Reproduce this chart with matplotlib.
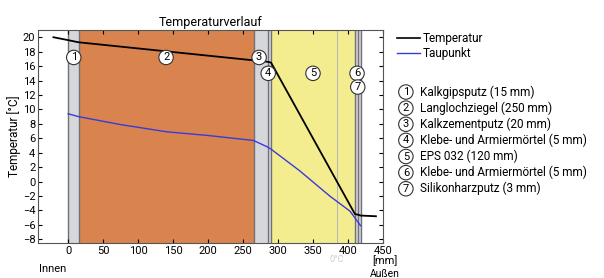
import numpy as np
import matplotlib.pyplot as plt

plt.rcParams['font.family'] = ['Roboto', 'DejaVu Sans']

layer_names = ['Kalkgipsputz (15 mm)', 'Langlochziegel (250 mm)', 'Kalkzementputz (20 mm)',
               'Klebe- und Armiermörtel (5 mm)', 'EPS 032 (120 mm)',
               'Klebe- und Armiermörtel (5 mm)', 'Silikonharzputz (3 mm)']
layer_thick = [15, 250, 20, 5, 120, 5, 3]
layer_colors = ['#d6d7db', '#d9834f', '#d6d7db', '#d6d7db', '#f4ed8f', '#d6d7db', '#d6d7db']

temp_x = [-21, 0, 15, 265, 285, 290, 410, 415, 418, 440]
temp_y = [20.0, 19.6, 19.3, 16.8, 16.6, 16.5, -4.5, -4.6, -4.7, -4.8]

dew_x = [0, 15, 75, 141, 199, 265, 285, 290, 331, 374, 403, 418]
dew_y = [9.4, 9.0, 7.9, 6.9, 6.4, 5.7, 4.8, 4.5, 1.5, -2.0, -4.1, -6.1]

zero_x = 384

# label positions (mm, degC) for the circled numbers
num_x = [8, 140, 273, 286, 350, 413, 414]
num_y = [17.2, 17.2, 17.2, 15.0, 15.0, 15.0, 13.1]

fig = plt.figure(figsize=(6.04, 2.78), dpi=100)
ax = fig.add_axes([0.063, 0.126, 0.571, 0.766])

edges = np.concatenate([[0], np.cumsum(layer_thick)])
for i in range(len(layer_thick)):
    ax.axvspan(edges[i], edges[i + 1], color=layer_colors[i], lw=0, zorder=0)
for e in edges:
    ax.axvline(e, color='#707078', lw=1.0, zorder=1)
ax.axvline(zero_x, color='#b8b8b8', lw=0.8, zorder=1)

ax.plot(temp_x, temp_y, color='black', lw=1.3, zorder=3, label='Temperatur')
ax.plot(dew_x, dew_y, color='#3a3ad8', lw=1.0, zorder=3, label='Taupunkt')

circ = dict(boxstyle='circle,pad=0.2', fc='white', ec='#333333', lw=0.8)
for i in range(len(num_x)):
    ax.text(num_x[i], num_y[i], str(i + 1), ha='center', va='center', fontsize=8,
            bbox=circ, zorder=4)

ax.set_xlim(-43, 450)
ax.set_ylim(-8.5, 21)
ax.set_xticks(np.arange(0, 451, 50))
ax.set_yticks(np.arange(-8, 21, 2))
ax.tick_params(direction='in', top=True, right=True, labelsize=8, length=3, pad=2)
for s in ax.spines.values():
    s.set_color('#555555')
ax.set_title('Temperaturverlauf', fontsize=9, pad=3)
ax.set_ylabel('Temperatur [°C]', fontsize=8.5, labelpad=1)

fig.text(0.065, 0.02, 'Innen', fontsize=8, ha='left')
fig.text(0.637, 0.05, '[mm]', fontsize=8, ha='center')
fig.text(0.637, 0.005, 'Außen', fontsize=7.5, ha='center')
ax.text(zero_x, -11.2, '0°C', fontsize=6.5, color='#cccccc', ha='center')

# legend on the right
fig.lines.append(plt.Line2D([0.657, 0.695], [0.863, 0.863], color='black', lw=1.2,
                            transform=fig.transFigure))
fig.lines.append(plt.Line2D([0.657, 0.695], [0.809, 0.809], color='#3a3ad8', lw=1.0,
                            transform=fig.transFigure))
fig.text(0.699, 0.863, 'Temperatur', fontsize=8.5, va='center')
fig.text(0.699, 0.809, 'Taupunkt', fontsize=8.5, va='center')

for i, name in enumerate(layer_names):
    y = 0.669 - i * 0.058
    fig.text(0.672, y, str(i + 1), fontsize=8, ha='center', va='center', bbox=circ)
    fig.text(0.695, y, name, fontsize=8.5, va='center')

fig.savefig('out.png', dpi=100)
